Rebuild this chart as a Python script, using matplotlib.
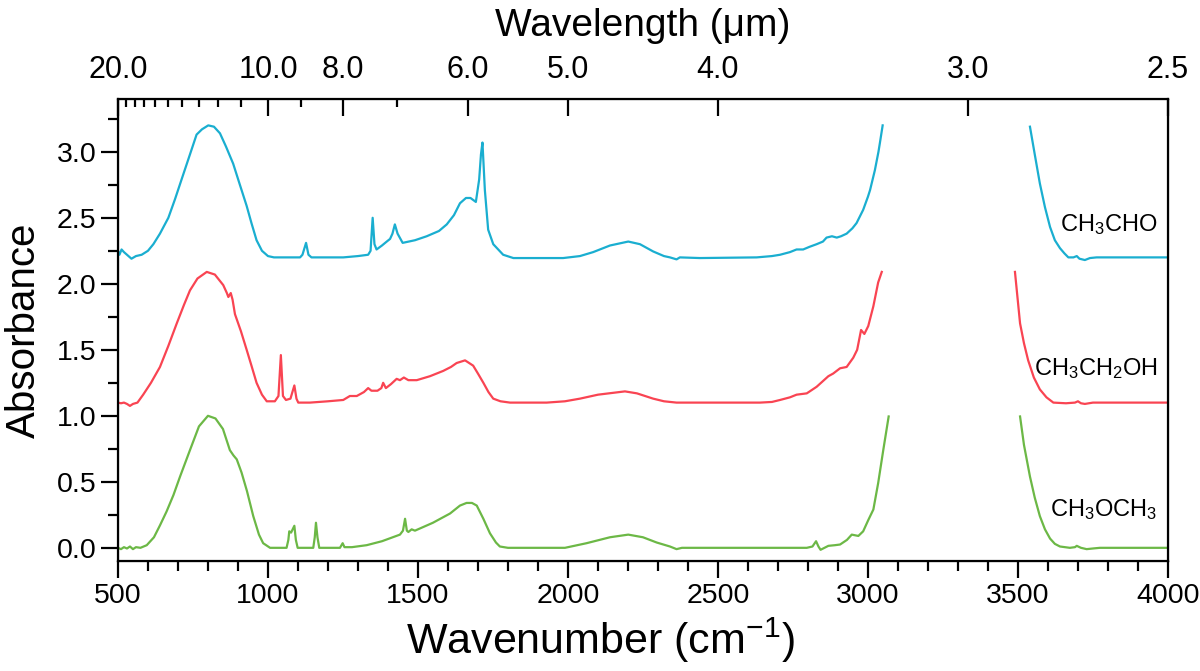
import numpy as np
import matplotlib
matplotlib.use('Agg')
import matplotlib.pyplot as plt

plt.rcParams['font.family'] = ['Liberation Sans', 'DejaVu Sans']
plt.rcParams['mathtext.fontset'] = 'custom'
plt.rcParams['mathtext.rm'] = 'Liberation Sans'
plt.rcParams['mathtext.it'] = 'Liberation Sans:italic'

# CH3CHO (offset +2.2)
wnCHO = [500, 505, 512, 520, 530, 545, 560, 579, 600, 618, 640, 668, 690, 712, 740, 762, 780, 801, 820, 840,
         860, 884, 905, 929, 945, 962, 980, 1000, 1020, 1107, 1115, 1127, 1135, 1145, 1251, 1300, 1334, 1342,
         1349, 1355, 1362, 1380, 1396, 1407, 1415, 1423, 1432, 1449, 1490, 1529, 1570, 1596, 1620, 1640, 1660,
         1675, 1693, 1704, 1710, 1715, 1723, 1734, 1751, 1784, 1818, 1984, 2040, 2084, 2140, 2201, 2240, 2284,
         2320, 2340, 2362, 2373, 2440, 2629, 2680, 2707, 2740, 2762, 2784, 2805, 2829, 2850, 2862, 2880, 2896,
         2910, 2929, 2948, 2962, 2984, 3000, 3007, 3023, 3035, 3040, 3049]
absCHO = [2.25, 2.22, 2.26, 2.24, 2.22, 2.19, 2.21, 2.22, 2.25, 2.30, 2.38, 2.50, 2.64, 2.79, 2.98, 3.13, 3.17,
          3.20, 3.19, 3.14, 3.04, 2.91, 2.76, 2.59, 2.46, 2.33, 2.25, 2.21, 2.20, 2.20, 2.22, 2.31, 2.22, 2.20,
          2.20, 2.21, 2.22, 2.25, 2.50, 2.30, 2.26, 2.29, 2.32, 2.34, 2.38, 2.45, 2.38, 2.31, 2.33, 2.36, 2.40,
          2.45, 2.52, 2.61, 2.65, 2.65, 2.62, 2.79, 2.98, 3.07, 2.71, 2.41, 2.30, 2.22, 2.195, 2.195, 2.21, 2.24,
          2.29, 2.32, 2.30, 2.245, 2.21, 2.20, 2.185, 2.20, 2.195, 2.20, 2.21, 2.22, 2.24, 2.26, 2.26, 2.28, 2.30,
          2.32, 2.35, 2.36, 2.35, 2.36, 2.38, 2.42, 2.46, 2.56, 2.66, 2.71, 2.86, 3.00, 3.07, 3.20]
wnCHO2 = [3540, 3556, 3573, 3590, 3607, 3623, 3640, 3655, 3668, 3685, 3696, 3705, 3723, 3740, 3762, 4000]
absCHO2 = [3.19, 2.98, 2.76, 2.58, 2.43, 2.33, 2.27, 2.23, 2.20, 2.20, 2.21, 2.19, 2.18, 2.195, 2.20, 2.20]

# CH3CH2OH (offset +1.1)
wnEtOH = [500, 510, 520, 530, 540, 550, 565, 584, 610, 640, 668, 696, 720, 740, 765, 796, 823, 851, 863, 868,
          876, 882, 890, 910, 929, 945, 962, 980, 996, 1023, 1035, 1043, 1050, 1060, 1075, 1088, 1095, 1101,
          1140, 1200, 1251, 1273, 1296, 1320, 1334, 1345, 1365, 1378, 1384, 1393, 1410, 1429, 1440, 1453, 1468,
          1496, 1540, 1584, 1610, 1629, 1657, 1684, 1700, 1718, 1735, 1751, 1775, 1807, 1929, 1990, 2040, 2100,
          2190, 2230, 2284, 2320, 2362, 2440, 2640, 2680, 2707, 2740, 2762, 2796, 2829, 2868, 2884, 2907, 2929,
          2951, 2964, 2977, 2988, 3001, 3018, 3034, 3046]
absEtOH = [1.10, 1.095, 1.10, 1.09, 1.075, 1.09, 1.10, 1.16, 1.25, 1.37, 1.53, 1.70, 1.84, 1.95, 2.04, 2.09,
           2.07, 1.99, 1.93, 1.90, 1.93, 1.88, 1.77, 1.64, 1.50, 1.38, 1.25, 1.16, 1.11, 1.11, 1.15, 1.46, 1.15,
           1.12, 1.13, 1.23, 1.13, 1.10, 1.10, 1.11, 1.12, 1.15, 1.15, 1.18, 1.21, 1.19, 1.19, 1.21, 1.25, 1.21,
           1.24, 1.28, 1.27, 1.29, 1.27, 1.27, 1.30, 1.34, 1.37, 1.40, 1.42, 1.38, 1.32, 1.25, 1.18, 1.13, 1.11,
           1.10, 1.10, 1.11, 1.13, 1.16, 1.185, 1.17, 1.13, 1.11, 1.10, 1.10, 1.10, 1.105, 1.12, 1.14, 1.16, 1.17,
           1.22, 1.30, 1.32, 1.36, 1.37, 1.44, 1.50, 1.65, 1.62, 1.68, 1.83, 2.01, 2.09]
wnEtOH2 = [3490, 3507, 3520, 3534, 3553, 3573, 3595, 3618, 3660, 3690, 3700, 3710, 3723, 3750, 3800, 4000]
absEtOH2 = [2.09, 1.70, 1.55, 1.42, 1.29, 1.20, 1.14, 1.10, 1.095, 1.10, 1.11, 1.095, 1.09, 1.10, 1.10, 1.10]

# CH3OCH3 (no offset)
wnDME = [500, 510, 520, 530, 540, 550, 560, 575, 596, 620, 640, 662, 685, 707, 740, 770, 800, 825, 850, 873,
         885, 896, 912, 930, 951, 970, 984, 1007, 1062, 1068, 1071, 1077, 1088, 1093, 1099, 1151, 1156, 1160,
         1165, 1171, 1240, 1249, 1255, 1280, 1329, 1380, 1440, 1450, 1457, 1463, 1468, 1479, 1490, 1550, 1607,
         1640, 1662, 1680, 1696, 1718, 1740, 1760, 1773, 1800, 1990, 2062, 2140, 2201, 2250, 2296, 2340, 2362,
         2380, 2440, 2796, 2815, 2827, 2835, 2842, 2868, 2890, 2907, 2930, 2946, 2968, 2984, 3001, 3018, 3034,
         3051, 3069]
absDME = [0.0, -0.01, 0.005, -0.005, 0.01, -0.01, 0.005, 0.0, 0.02, 0.08, 0.17, 0.275, 0.40, 0.54, 0.74, 0.92,
          1.00, 0.98, 0.90, 0.74, 0.70, 0.67, 0.57, 0.43, 0.24, 0.10, 0.035, 0.0, 0.0, 0.06, 0.125, 0.115, 0.167,
          0.06, 0.0, 0.0, 0.08, 0.19, 0.08, 0.0, 0.0, 0.035, 0.005, 0.005, 0.02, 0.05, 0.10, 0.13, 0.22, 0.13,
          0.12, 0.14, 0.13, 0.19, 0.26, 0.32, 0.34, 0.34, 0.32, 0.22, 0.11, 0.04, 0.01, 0.0, 0.0, 0.035, 0.08,
          0.10, 0.08, 0.04, 0.01, -0.01, 0.0, 0.0, 0.0, 0.01, 0.05, 0.01, -0.015, 0.015, 0.02, 0.025, 0.06, 0.10,
          0.09, 0.125, 0.21, 0.29, 0.49, 0.74, 0.995]
wnDME2 = [3507, 3520, 3540, 3556, 3573, 3590, 3607, 3623, 3640, 3673, 3690, 3696, 3710, 3729, 3750, 3773, 4000]
absDME2 = [0.995, 0.78, 0.54, 0.38, 0.24, 0.14, 0.07, 0.03, 0.01, 0.0, 0.005, 0.015, 0.0, -0.01, -0.005, 0.0,
           0.0]

names = ['CH$_\\mathregular{3}$CHO', 'CH$_\\mathregular{3}$CH$_\\mathregular{2}$OH',
         'CH$_\\mathregular{3}$OCH$_\\mathregular{3}$']
nameY = [2.45, 1.36, 0.29]
colors = ['#1aaed0', '#f94452', '#6cb846']

wavelengths = [20.0, 10.0, 8.0, 6.0, 5.0, 4.0, 3.0, 2.5]
minorWavelengths = [19, 18, 17, 16, 15, 14, 13, 12, 11, 9, 7]

fig = plt.figure(figsize=(12, 6.71), dpi=100)
ax = fig.add_axes([0.0983, 0.1639, 0.875, 0.6886])

curves = [(wnCHO, absCHO, wnCHO2, absCHO2), (wnEtOH, absEtOH, wnEtOH2, absEtOH2),
          (wnDME, absDME, wnDME2, absDME2)]
for (x1, y1, x2, y2), c in zip(curves, colors):
    ax.plot(x1, y1, color=c, linewidth=1.6)
    ax.plot(x2, y2, color=c, linewidth=1.6)

for n, yy in zip(names, nameY):
    ax.text(3965, yy, n, ha='right', va='center', fontsize=17)

ax.set_xlim(500, 4000)
ax.set_ylim(-0.1, 3.4)
ax.set_xticks(np.arange(500, 4001, 500))
ax.set_xticks(np.arange(500, 4001, 100), minor=True)
ax.set_yticks(np.arange(0, 3.01, 0.5))
ax.set_yticks(np.arange(0, 3.3, 0.25), minor=True)
ax.set_yticklabels(['%.1f' % v for v in np.arange(0, 3.01, 0.5)])
ax.tick_params(which='major', direction='out', length=12, width=1.6, labelsize=20.5, top=False, right=False)
ax.tick_params(which='minor', direction='out', length=7, width=1.6, top=False, right=False)
ax.set_xlabel('Wavenumber (cm$^{\\mathregular{-1}}$)', fontsize=31, va='top')
ax.xaxis.set_label_coords(0.459, -0.118)
ax.set_ylabel('Absorbance', fontsize=29, labelpad=10)
for s in ax.spines.values():
    s.set_linewidth(1.6)

ax2 = ax.twiny()
ax2.set_xlim(500, 4000)
ax2.set_xticks([10000 / w for w in wavelengths])
ax2.set_xticklabels(['%.1f' % w for w in wavelengths])
ax2.set_xticks([10000 / w for w in minorWavelengths], minor=True)
ax2.tick_params(which='major', direction='in', length=12, width=1.6, labelsize=22, pad=10)
ax2.tick_params(which='minor', direction='in', length=6, width=1.6)
ax2.set_xlabel('Wavelength (\u03bcm)', fontsize=28, labelpad=14)

fig.savefig('out.png', dpi=100)
